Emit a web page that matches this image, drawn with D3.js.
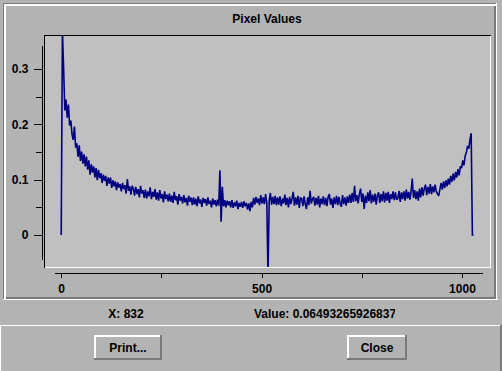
<!DOCTYPE html>
<html><head><meta charset="utf-8">
<script src="https://cdn.jsdelivr.net/npm/d3@7"></script>
<style>
html,body{margin:0;padding:0;background:#b3b3b3;}
svg{display:block;}
text{font-family:"Liberation Sans",Arial,Helvetica,sans-serif;font-weight:bold;font-size:12px;fill:#000;}
</style></head>
<body>
<svg id="c" width="502" height="371"></svg>
<script>
// ---- data (pixel index step 3) ----
const indexStep = 3;
const pixelValues = [
0,0.37,0.302,0.225,0.245,0.212,0.236,0.198,0.207,0.182,
0.172,0.196,0.158,0.166,0.141,0.162,0.134,0.151,0.129,0.146,
0.124,0.142,0.118,0.135,0.109,0.128,0.113,0.124,0.104,0.121,
0.099,0.118,0.103,0.112,0.094,0.109,0.098,0.107,0.089,0.104,
0.093,0.104,0.085,0.099,0.088,0.097,0.081,0.095,0.086,0.092,
0.079,0.094,0.083,0.09,0.075,0.101,0.08,0.088,0.073,0.089,
0.084,0.071,0.087,0.074,0.083,0.068,0.089,0.075,0.081,0.067,
0.082,0.066,0.079,0.07,0.086,0.065,0.078,0.069,0.083,0.064,
0.077,0.062,0.081,0.066,0.074,0.059,0.079,0.065,0.073,0.061,
0.075,0.06,0.071,0.058,0.078,0.063,0.07,0.055,0.074,0.062,
0.069,0.057,0.072,0.059,0.067,0.053,0.071,0.06,0.068,0.054,
0.068,0.055,0.066,0.052,0.07,0.057,0.064,0.051,0.067,0.058,
0.065,0.053,0.068,0.056,0.062,0.05,0.066,0.055,0.063,0.052,
0.064,0.053,0.117,0.024,0.087,0.052,0.063,0.05,0.062,0.054,
0.061,0.05,0.063,0.049,0.059,0.052,0.062,0.047,0.058,0.051,
0.06,0.049,0.061,0.052,0.058,0.046,0.057,0.043,0.06,0.05,
0.067,0.055,0.069,0.058,0.066,0.054,0.072,0.057,0.068,0.056,
0.074,0.058,-0.07,0.063,0.076,0.055,0.069,0.056,0.071,0.054,
0.068,0.055,0.07,0.052,0.066,0.057,0.073,0.054,0.067,0.05,
0.069,0.056,0.066,0.078,0.053,0.068,0.055,0.071,0.049,0.067,
0.066,0.052,0.07,0.056,0.047,0.068,0.054,0.08,0.057,0.065,
0.069,0.053,0.067,0.055,0.071,0.05,0.066,0.056,0.07,0.054,
0.067,0.052,0.069,0.074,0.055,0.066,0.049,0.068,0.056,0.071,
0.054,0.069,0.057,0.051,0.072,0.056,0.068,0.053,0.07,0.058,
0.073,0.058,0.076,0.06,0.089,0.061,0.072,0.057,0.074,0.084,
0.06,0.075,0.047,0.071,0.058,0.077,0.061,0.081,0.057,0.073,
0.06,0.075,0.055,0.072,0.077,0.058,0.074,0.061,0.079,0.059,
0.076,0.062,0.078,0.058,0.074,0.065,0.079,0.063,0.077,0.064,
0.066,0.08,0.06,0.077,0.065,0.079,0.062,0.082,0.066,0.078,
0.064,0.079,0.102,0.067,0.081,0.065,0.079,0.062,0.084,0.068,
0.086,0.071,0.084,0.091,0.072,0.087,0.075,0.092,0.074,0.088,
0.077,0.091,0.079,0.074,0.071,0.083,0.094,0.082,0.097,0.085,
0.099,0.088,0.102,0.091,0.107,0.096,0.111,0.099,0.114,0.104,
0.119,0.108,0.124,0.121,0.135,0.126,0.143,0.149,0.161,0.156,
0.172,0.184,0,0
];
const yTickValues = [0, 0.1, 0.2, 0.3];
const yMinorTicks = [0.05, 0.15, 0.25];
const xTickValues = [0, 250, 500, 750, 1000];
const xLabelled = [0, 500, 1000];
const titleText = "Pixel Values";
const xReadout = "X: 832";
const valueReadout = "Value: 0.06493265926837";
const buttonLabels = ["Print...", "Close"];

const svg = d3.select("#c");
const bg = "#b3b3b3", dark = "#7a7a7a", light = "#ffffff";

svg.append("rect").attr("x",0).attr("y",0).attr("width",502).attr("height",371).attr("fill",bg);

function rect(x,y,w,h,f){svg.append("rect").attr("x",x).attr("y",y).attr("width",w).attr("height",h).attr("fill",f).attr("shape-rendering","crispEdges");}
// etched frame around chart panel
rect(3,3,494,1,dark); rect(3,3,1,297,dark);
rect(4,4,492,2,light); rect(4,4,2,295,light);
rect(6,297,490,2,dark); rect(494,6,2,293,dark);
rect(3,299,495,1,light); rect(496,3,1,297,light);

// title
svg.append("text").attr("x",267).attr("y",23).attr("text-anchor","middle").text(titleText);

// plot area
rect(44,35,447,233,"#c0c0c0");
rect(44,35,447,1,"#000"); rect(44,35,1,233,"#000");
rect(45,267,446,1,light); rect(490,36,1,232,light);

// scales
const x = d3.scaleLinear().domain([-18,1050]).range([54,482]);
const y = d3.scaleLinear().domain([-0.0434,0.3436]).range([259,45]);

// clip and line
svg.append("clipPath").attr("id","pc").append("rect").attr("x",45).attr("y",36).attr("width",445).attr("height",231);
const pts = pixelValues.map((v,i)=>[i*indexStep, v]);
svg.append("path").datum(pts)
  .attr("clip-path","url(#pc)")
  .attr("fill","none").attr("stroke","#000080").attr("stroke-width",1.6)
  .attr("stroke-linejoin","miter").attr("stroke-miterlimit",2)
  .attr("d", d3.line().x(d=>x(d[0])).y(d=>y(d[1])));

// y axis
svg.append("g").attr("transform","translate(41.5,0)")
  .call(d3.axisLeft(y).tickValues(yTickValues).tickSize(8).tickSizeOuter(0).tickPadding(5).tickFormat(d3.format("")));
svg.append("g").attr("transform","translate(41.5,0)")
  .call(d3.axisLeft(y).tickValues(yMinorTicks).tickSize(6).tickSizeOuter(0).tickFormat(""));
// x axis
svg.append("g").attr("transform","translate(0,272.5)")
  .call(d3.axisBottom(x).tickValues(xTickValues).tickSize(5).tickSizeOuter(0).tickPadding(7)
    .tickFormat(d=> xLabelled.includes(d) ? d3.format("d")(d) : ""));
svg.selectAll(".domain, .tick line").attr("stroke","#000").attr("shape-rendering","crispEdges");
svg.selectAll(".tick text").attr("font-family",null).attr("font-size",null).attr("fill","#000");

// readouts
svg.append("text").attr("x",126).attr("y",318).attr("text-anchor","middle").text(xReadout);
svg.append("clipPath").attr("id","vc").append("rect").attr("x",250).attr("y",300).attr("width",145).attr("height",25);
svg.append("text").attr("x",254).attr("y",318).attr("clip-path","url(#vc)").text(valueReadout);

// lower button panel (raised)
rect(0,326,502,45,bg);
rect(0,325,501,1,light); rect(0,325,1,46,light);
rect(500,325,2,46,dark);

// buttons
const btns = [{x:94,w:68},{x:347,w:60}];
btns.forEach((b,i)=>{
  rect(b.x,335,b.w,25,bg);
  rect(b.x,335,b.w,2,light); rect(b.x,335,2,25,light);
  rect(b.x,358,b.w,2,dark); rect(b.x+b.w-2,335,2,25,dark);
  svg.append("text").attr("x",b.x+b.w/2).attr("y",352).attr("text-anchor","middle").text(buttonLabels[i]);
});
</script>
</body></html>
